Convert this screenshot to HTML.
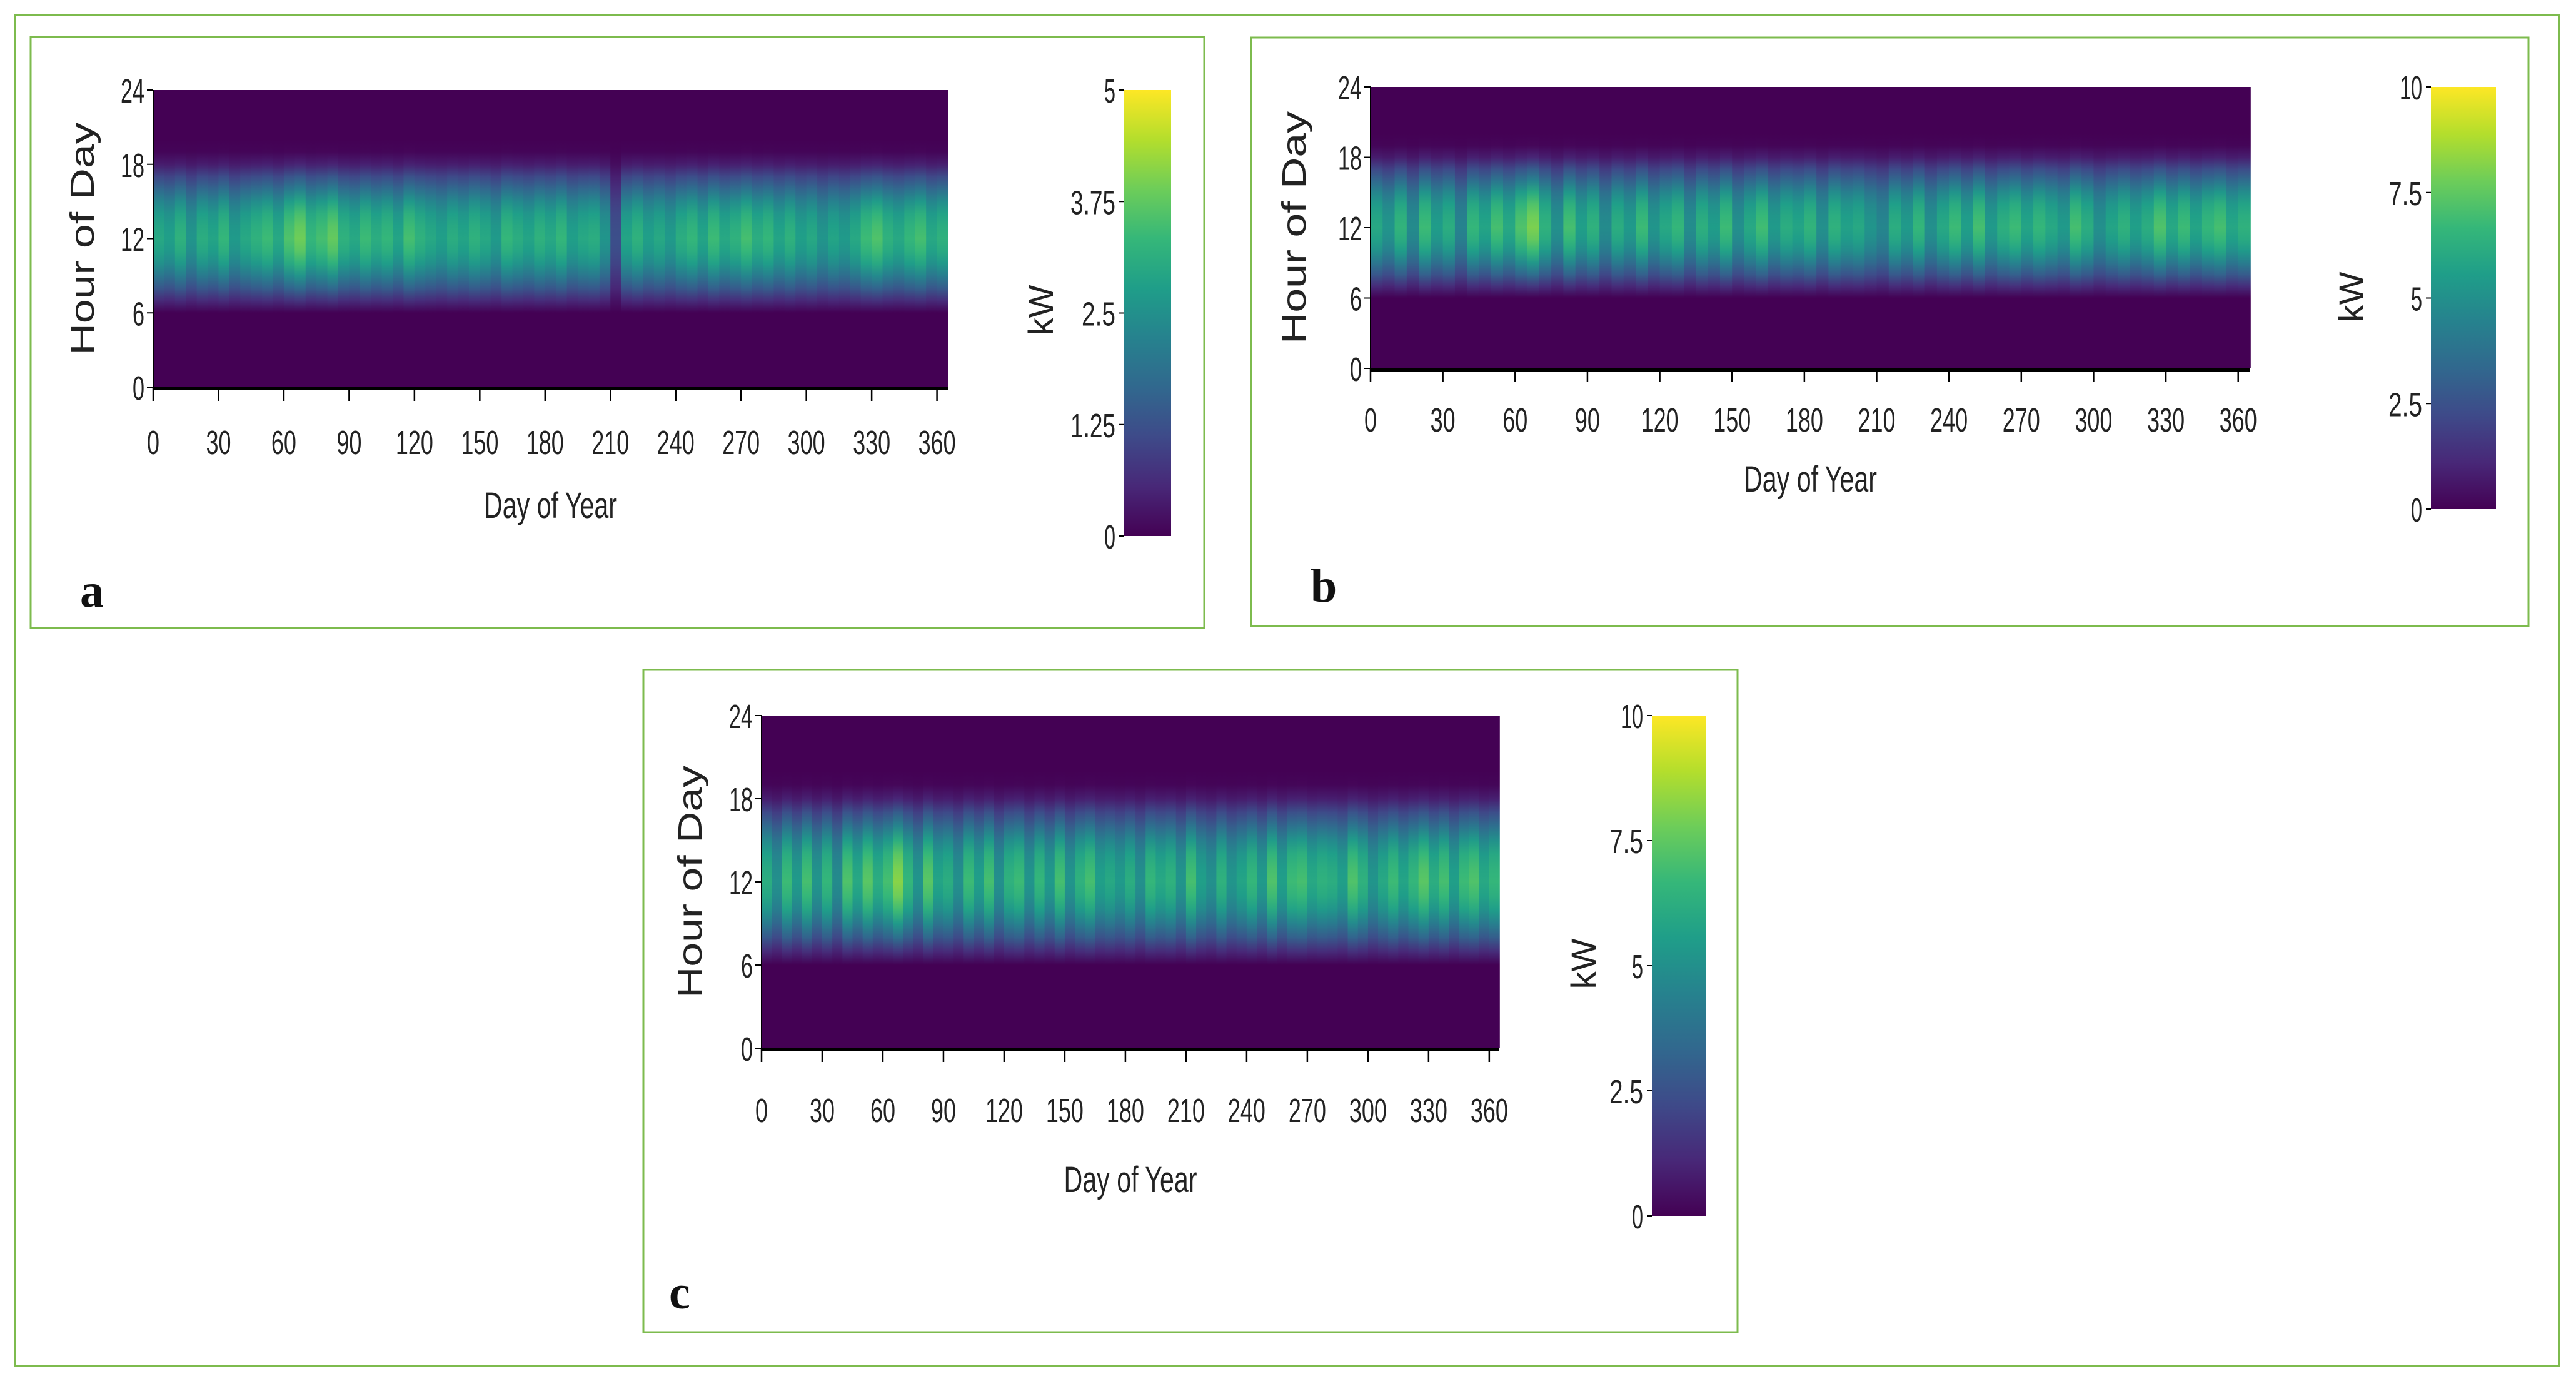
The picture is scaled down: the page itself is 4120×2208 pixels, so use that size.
<!DOCTYPE html>
<html><head><meta charset="utf-8"><style>
html,body{margin:0;padding:0;background:#fff;}
svg{display:block;}
text{font-family:"Liberation Sans",sans-serif;fill:#222;}
</style></head><body>
<svg id="fig" width="4120" height="2208" viewBox="0 0 4120 2208" xmlns="http://www.w3.org/2000/svg">
<defs id="defs"></defs>
<rect x="24" y="24" width="4069" height="2160" fill="#fff" stroke="#7dbb4e" stroke-width="3"/>
<rect x="49" y="59" width="1877" height="945" fill="#fff" stroke="#7dbb4e" stroke-width="3"/>
<rect x="2001" y="60" width="2043" height="941" fill="#fff" stroke="#7dbb4e" stroke-width="3"/>
<rect x="1029" y="1071" width="1750" height="1059" fill="#fff" stroke="#7dbb4e" stroke-width="3"/>
</svg>
<script>
// ---- data (5-day bins, peak kW at midday) ----
const days = [0,30,60,90,120,150,180,210,240,270,300,330,360];
const hourTicks = [0,6,12,18,24];
const cbTicksA = ["0","1.25","2.5","3.75","5"];
const cbTicksBC = ["0","2.5","5","7.5","10"];
const hourProfile = [0,0,0,0,0,0,0,0.2,0.45,0.66,0.84,0.95,1.0,0.97,0.9,0.76,0.56,0.36,0.13,0.02,0,0,0,0,0];
const peakA = [3.0,2.8,3.2,2.6,3.1,2.9,3.3,2.7,3.0,3.2,3.4,3.0,3.6,3.9,3.3,3.5,3.8,3.2,3.0,3.4,3.1,3.3,2.9,3.5,3.2,3.0,2.8,3.1,2.9,3.2,3.0,2.7,3.3,3.1,2.9,3.2,3.0,3.3,2.8,3.0,3.1,2.6,1.2,2.9,3.2,2.8,3.0,2.7,3.1,3.3,2.9,3.4,3.0,3.2,3.5,3.1,3.3,2.9,3.2,2.8,3.0,2.6,2.9,2.7,3.0,3.4,3.6,3.2,3.0,3.3,3.5,3.0,3.2];
const peakB = [6.0,5.2,6.5,4.8,6.8,5.5,6.2,4.5,6.6,5.8,7.0,6.0,7.2,8.0,6.4,5.0,7.0,5.6,6.4,4.8,6.2,5.4,6.8,5.2,6.0,6.6,4.9,6.3,5.5,6.8,5.0,6.0,6.9,5.4,6.2,5.8,6.5,5.0,6.4,5.7,6.0,5.2,4.6,6.2,5.4,6.6,5.0,6.0,6.8,5.6,7.0,5.4,6.3,6.8,5.8,6.6,6.0,5.4,7.0,6.2,5.0,5.8,6.4,5.6,6.2,7.2,6.0,6.8,5.8,6.6,7.0,5.9,6.4];
const peakC = [6.2,5.0,6.8,5.4,7.0,5.2,6.6,4.8,7.2,6.0,7.4,6.2,7.0,8.2,6.6,5.2,7.4,5.8,6.2,5.0,6.8,5.6,7.0,5.0,6.4,6.8,5.2,6.6,5.4,7.0,5.2,6.4,7.0,5.6,6.0,5.4,6.2,5.0,6.6,6.0,6.4,5.2,7.0,5.6,5.0,6.4,5.2,5.8,6.6,5.4,7.2,5.6,6.8,7.0,6.0,6.4,6.2,5.6,7.2,6.4,5.2,6.0,6.8,5.8,6.6,7.4,6.2,7.0,5.6,6.8,7.2,6.0,6.6];

const NS = "http://www.w3.org/2000/svg";
const svg = document.getElementById('fig');
const defs = document.getElementById('defs');
const VIR = [[68,1,84],[72,40,120],[62,74,137],[49,104,142],[38,130,142],[31,158,137],[53,183,121],[109,205,89],[180,222,44],[253,231,37]];
function viridis(t){t=Math.max(0,Math.min(1,t));const f=t*(VIR.length-1);const i=Math.min(VIR.length-2,Math.floor(f));const r=f-i;const a=VIR[i],b=VIR[i+1];return `rgb(${Math.round(a[0]+(b[0]-a[0])*r)},${Math.round(a[1]+(b[1]-a[1])*r)},${Math.round(a[2]+(b[2]-a[2])*r)})`;}
function el(tag, attrs, parent){const e=document.createElementNS(NS,tag);for(const k in attrs)e.setAttribute(k,attrs[k]);(parent||svg).appendChild(e);return e;}
function txt(s, attrs){const t=el('text',attrs);t.textContent=s;return t;}

function panel(id, P, peaks, vmax, cbLabels){
  const xs = d => P.x0 + (d/365)*(P.x1-P.x0);
  const ys = h => P.y1 - (h/24)*(P.y1-P.y0);
  const g = el('g',{});
  
  
  const bw = 5;
  peaks.forEach((pk,i)=>{
    const gid = id+'-grad-'+i;
    const lg = el('linearGradient',{id:gid,x1:0,y1:1,x2:0,y2:0},defs);
    hourProfile.forEach((p,h)=>{ el('stop',{offset:(h/24).toFixed(4),'stop-color':viridis(pk*p/vmax)},lg); });
    const xa = xs(i*bw), xb = xs(Math.min(365,(i+1)*bw));
    const r = el('rect',{x:xa.toFixed(2),y:P.y0,width:(xb-xa+0.8).toFixed(2),height:P.y1-P.y0,fill:`url(#${gid})`},g);
    
    
  });
  const ax = el('line',{x1:P.x0,y1:P.y1+2,x2:P.x1,y2:P.y1+2,stroke:'#000','stroke-width':6});
  
  
  el('line',{x1:P.x0,y1:P.y0,x2:P.x0,y2:P.y1+4,stroke:'#000','stroke-width':2});
  days.forEach(d=>{
    const x = xs(d);
    el('line',{x1:x,y1:P.y1,x2:x,y2:P.y1+22,stroke:'#000','stroke-width':2.5});
    const t = txt(String(d),{x:x,y:P.tickY,'font-size':54,'text-anchor':'middle',textLength:String(d).length*20,lengthAdjust:'spacingAndGlyphs'});
    
    
  });
  hourTicks.forEach(h=>{
    const y = ys(h);
    el('line',{x1:P.x0-10,y1:y,x2:P.x0,y2:y,stroke:'#000','stroke-width':2});
    const t = txt(String(h),{x:P.x0-14,y:y+20,'font-size':54,'text-anchor':'end',textLength:String(h).length*19,lengthAdjust:'spacingAndGlyphs'});
    
    
  });
  const xt = txt('Day of Year',{x:(P.x0+P.x1)/2,y:P.titleY,'font-size':58,'text-anchor':'middle',textLength:213,lengthAdjust:'spacingAndGlyphs'});
  
  
  const cy = (P.y0+P.y1)/2;
  const yt = txt('Hour of Day',{x:0,y:0,'font-size':54,'text-anchor':'middle',textLength:372,lengthAdjust:'spacingAndGlyphs',transform:`translate(${P.yTitleX},${cy}) rotate(-90)`});
  
  
  const cgid = id+'-cb';
  const cg = el('linearGradient',{id:cgid,x1:0,y1:1,x2:0,y2:0},defs);
  VIR.forEach((c,i)=>el('stop',{offset:i/(VIR.length-1),'stop-color':`rgb(${c[0]},${c[1]},${c[2]})`},cg));
  const cb = el('rect',{x:P.cx0,y:P.cy0,width:P.cx1-P.cx0,height:P.cy1-P.cy0,fill:`url(#${cgid})`});
  
  
  cbLabels.forEach((s,i)=>{
    const y = P.cy1 - i/(cbLabels.length-1)*(P.cy1-P.cy0);
    el('line',{x1:P.cx0-8,y1:y,x2:P.cx0,y2:y,stroke:'#000','stroke-width':2});
    const t = txt(s,{x:P.cx0-14,y:y+20,'font-size':54,'text-anchor':'end',textLength:s.length*18,lengthAdjust:'spacingAndGlyphs'});
    
    
  });
  const kw = txt('kW',{x:0,y:0,'font-size':56,'text-anchor':'middle',transform:`translate(${P.kwX},${P.kwY}) rotate(-90)`});
  
  
  const lab = txt(P.letter,{x:P.lx,y:P.ly,'font-size':76,'font-weight':'bold'});
  lab.setAttribute('style','font-family:"Liberation Serif",serif;fill:#111');
  
  
}

panel('panel-a',{x0:245,x1:1516,y0:144,y1:619,tickY:726,titleY:828,yTitleX:150,cx0:1798,cx1:1873,cy0:144,cy1:857,kwX:1684,kwY:496,letter:'a',lx:128,ly:970},peakA,5,cbTicksA);
panel('panel-b',{x0:2192,x1:3599,y0:139,y1:589,tickY:690,titleY:786,yTitleX:2088,cx0:3888,cx1:3992,cy0:139,cy1:814,kwX:3780,kwY:475,letter:'b',lx:2096,ly:962},peakB,10,cbTicksBC);
panel('panel-c',{x0:1218,x1:2398,y0:1144,y1:1676,tickY:1794,titleY:1906,yTitleX:1122,cx0:2642,cx1:2728,cy0:1144,cy1:1944,kwX:2552,kwY:1541,letter:'c',lx:1070,ly:2092},peakC,10,cbTicksBC);
</script>
</body></html>
